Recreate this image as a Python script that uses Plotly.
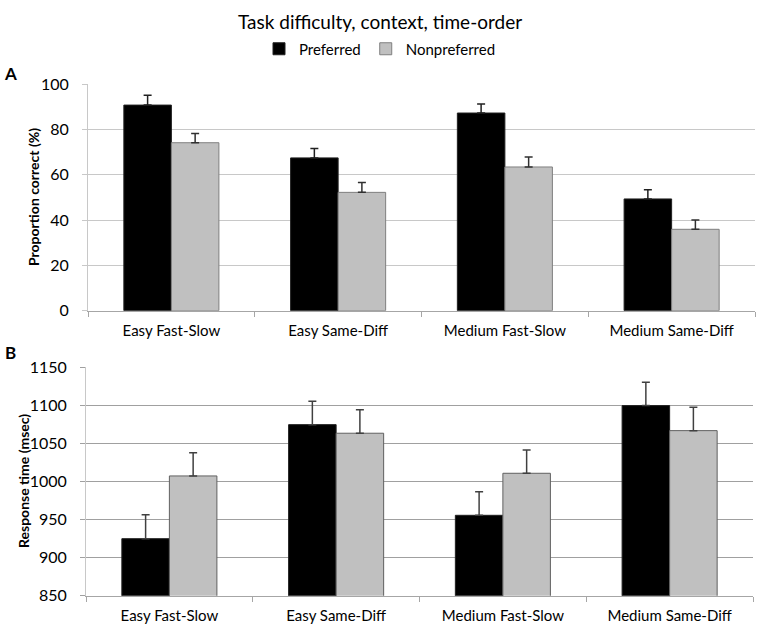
import plotly.graph_objects as go

categories = ["Easy Fast-Slow", "Easy Same-Diff", "Medium Fast-Slow", "Medium Same-Diff"]
series_names = ["Preferred", "Nonpreferred"]

acc_pref = [90.7, 67.4, 87.2, 49.3]
acc_pref_err = [4.3, 4.2, 4.0, 4.1]
acc_nonpref = [74.1, 52.2, 63.4, 35.9]
acc_nonpref_err = [4.1, 4.4, 4.4, 4.1]

rt_pref = [924.9, 1074.7, 955.6, 1099.7]
rt_pref_err = [31.5, 30.7, 31.0, 30.7]
rt_nonpref = [1007.3, 1063.4, 1010.8, 1066.8]
rt_nonpref_err = [30.6, 31.0, 30.7, 30.8]

acc_ticks = [0, 20, 40, 60, 80, 100]
rt_ticks = [850, 900, 950, 1000, 1050, 1100, 1150]

W, H = 760, 629
FONT = "Lato, 'Open Sans', sans-serif"
BLACK = "#000000"
GRAY = "#c0c0c0"

fig = go.Figure()

def bars(x, y, err, name, color, line_color, err_color, xa, ya, show):
    fig.add_trace(go.Bar(
        x=x, y=y, name=name, showlegend=show, legendgroup=name,
        marker=dict(color=color, line=dict(color=line_color, width=1)),
        error_y=dict(type="data", array=err, arrayminus=[0] * len(err), symmetric=False,
                     color=err_color, thickness=1.5, width=4),
        xaxis=xa, yaxis=ya,
    ))

bars(categories, acc_pref, acc_pref_err, series_names[0], BLACK, "#202020", "#202020", "x", "y", True)
bars(categories, acc_nonpref, acc_nonpref_err, series_names[1], GRAY, "#7f7f7f", "#303030", "x", "y", True)
bars(categories, rt_pref, rt_pref_err, series_names[0], BLACK, "#202020", "#404040", "x2", "y2", False)
bars(categories, rt_nonpref, rt_nonpref_err, series_names[1], GRAY, "#606060", "#404040", "x2", "y2", False)

def py(p):
    return 1 - p / H

xcommon = dict(type="category", showline=True, linecolor="#a6a6a6", linewidth=1,
               ticks="outside", tickson="boundaries", ticklen=5, tickcolor="#a6a6a6",
               showgrid=False, tickfont=dict(family=FONT, size=15, color="#000"),
               ticklabelstandoff=6, automargin=False)
ycommon = dict(showline=True, linewidth=1, ticks="outside", ticklen=5,
               tickfont=dict(family=FONT, size=16, color="#000"), zeroline=False,
               ticklabelstandoff=10, automargin=False)

fig.update_layout(
    width=W, height=H,
    margin=dict(l=0, r=0, t=0, b=0),
    paper_bgcolor="white", plot_bgcolor="white",
    barmode="group", bargap=0.43, bargroupgap=0,
    font=dict(family=FONT, color="#000"),
    xaxis=dict(domain=[88 / W, 755 / W], anchor="y", **xcommon),
    yaxis=dict(domain=[py(310.7), py(84)], anchor="x", range=[0, 100], tickvals=acc_ticks,
               gridcolor="#c8c8c8", linecolor="#c8c8c8", tickcolor="#c8c8c8", **ycommon),
    xaxis2=dict(domain=[86 / W, 753 / W], anchor="y2", **xcommon),
    yaxis2=dict(domain=[py(595.7), py(367.3)], anchor="x2", range=[850, 1150], tickvals=rt_ticks,
                gridcolor="#a0a0a0", linecolor="#c8c8c8", tickcolor="#a0a0a0", **ycommon),
    legend=dict(orientation="h", x=0.5, xanchor="center", y=py(49), yanchor="middle",
                font=dict(family=FONT, size=15, color="#000"), itemwidth=30,
                traceorder="normal", bgcolor="rgba(0,0,0,0)"),
    annotations=[
        dict(text="Task difficulty, context, time-order", x=0.5, y=py(22), xref="paper", yref="paper",
             showarrow=False, font=dict(family=FONT, size=19, color="#000"), xanchor="center", yanchor="middle"),
        dict(text="<b>A</b>", x=10 / W, y=py(73), xref="paper", yref="paper", showarrow=False,
             font=dict(family=FONT, size=17, color="#000"), xanchor="center", yanchor="middle"),
        dict(text="<b>B</b>", x=10 / W, y=py(352), xref="paper", yref="paper", showarrow=False,
             font=dict(family=FONT, size=17, color="#000"), xanchor="center", yanchor="middle"),
        dict(text="<b>Proportion correct (%)</b>", x=33 / W, y=py(197), xref="paper", yref="paper",
             showarrow=False, textangle=-90, font=dict(family=FONT, size=14, color="#000"),
             xanchor="center", yanchor="middle"),
        dict(text="<b>Response time (msec)</b>", x=24 / W, y=py(481), xref="paper", yref="paper",
             showarrow=False, textangle=-90, font=dict(family=FONT, size=14, color="#000"),
             xanchor="center", yanchor="middle"),
    ],
)

fig.write_html("out.html", config={"displayModeBar": False},
               post_script="document.body.style.margin='0';document.body.style.padding='0';")
